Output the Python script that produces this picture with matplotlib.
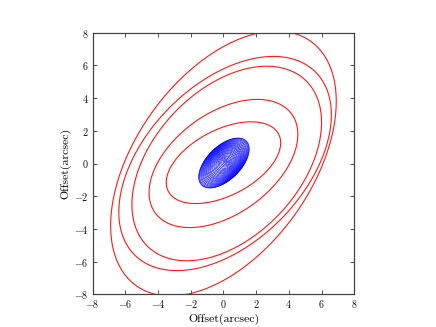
import numpy as np
import matplotlib
matplotlib.use("Agg")
import matplotlib.pyplot as plt

plt.rcParams['font.family'] = 'serif'
plt.rcParams['font.serif'] = ['cmr10']
plt.rcParams['mathtext.fontset'] = 'cm'
plt.rcParams['axes.formatter.use_mathtext'] = True

# Red contour ellipses: x = A cos t, y = B cos(t - phi), centred at (cx, cy)
red_cx = [0.0, 0.0, 0.2, 0.1, 0.0]
red_cy = [0.05, 0.0, 0.0, 0.0, 0.0]
red_A = [3.5, 4.55, 5.8, 6.5, 6.9]
red_B = [2.5, 3.92, 5.95, 6.55, 8.1]
red_phi = [61, 63, 65, 63, 62]

# Blue ring ellipses (inner to outer)
blue_cx = [0.16, 0.15, 0.15, 0.14, 0.14, 0.13, 0.13, 0.12, 0.12, 0.11, 0.11, 0.10,
           0.10, 0.09, 0.09, 0.08, 0.08, 0.07, 0.07, 0.06, 0.06, 0.05, 0.05, 0.04,
           0.04, 0.03, 0.03, 0.03]
blue_cy = [0.10, 0.10, 0.09, 0.09, 0.09, 0.08, 0.08, 0.08, 0.07, 0.07, 0.07, 0.06,
           0.06, 0.06, 0.05, 0.05, 0.05, 0.04, 0.04, 0.04, 0.03, 0.03, 0.03, 0.03,
           0.03, 0.03, 0.03, 0.03]
blue_A = [0.04, 0.10, 0.17, 0.24, 0.31, 0.38, 0.45, 0.52, 0.58, 0.64, 0.70, 0.76,
          0.82, 0.88, 0.93, 0.98, 1.03, 1.08, 1.13, 1.18, 1.23, 1.28, 1.33, 1.38,
          1.43, 1.48, 1.52, 1.55]
blue_B = [0.04, 0.10, 0.17, 0.24, 0.31, 0.38, 0.45, 0.52, 0.58, 0.64, 0.70, 0.76,
          0.82, 0.88, 0.93, 0.98, 1.03, 1.08, 1.13, 1.18, 1.23, 1.28, 1.33, 1.38,
          1.43, 1.48, 1.51, 1.53]
blue_phi = [89, 88, 86, 84, 82, 80, 78, 76, 75, 74, 73, 72,
            71, 70, 69, 68, 67, 66, 65, 64, 63, 62, 61, 60,
            59, 58, 57, 56]

xticks = [-8, -6, -4, -2, 0, 2, 4, 6, 8]
yticks = [-8, -6, -4, -2, 0, 2, 4, 6, 8]
xlabel = 'Offset(arcsec)'
ylabel = 'Offset(arcsec)'

fig = plt.figure(figsize=(4.36, 3.27), dpi=100)
fig.subplots_adjust(left=0.125, right=0.9, bottom=0.1, top=0.9)
ax = fig.add_subplot(111)

t = np.linspace(0, 2 * np.pi, 500)
for cx, cy, A, B, p in zip(red_cx, red_cy, red_A, red_B, red_phi):
    ph = np.deg2rad(p)
    ax.plot(cx + A * np.cos(t), cy + B * np.cos(t - ph), color='#ff1a1a',
            lw=0.8, solid_capstyle='butt', solid_joinstyle='round')

for cx, cy, A, B, p in zip(blue_cx, blue_cy, blue_A, blue_B, blue_phi):
    ph = np.deg2rad(p)
    ax.plot(cx + A * np.cos(t), cy + B * np.cos(t - ph), color='blue',
            lw=0.45, solid_capstyle='butt')

ax.set_xlim(-8, 8)
ax.set_ylim(-8, 8)
ax.set_aspect('equal')
ax.set_xticks(xticks)
ax.set_yticks(yticks)
ax.tick_params(direction='in', top=True, right=True, length=3, width=0.6,
               labelsize=7.3, pad=3, colors='#333333', labelcolor='#111111')
for s in ax.spines.values():
    s.set_linewidth(0.9)
    s.set_color('#444444')
ax.set_xlabel(xlabel, fontsize=8.5, labelpad=2)
ax.set_ylabel(ylabel, fontsize=8.5, labelpad=2)

fig.savefig('out.png', dpi=100)
